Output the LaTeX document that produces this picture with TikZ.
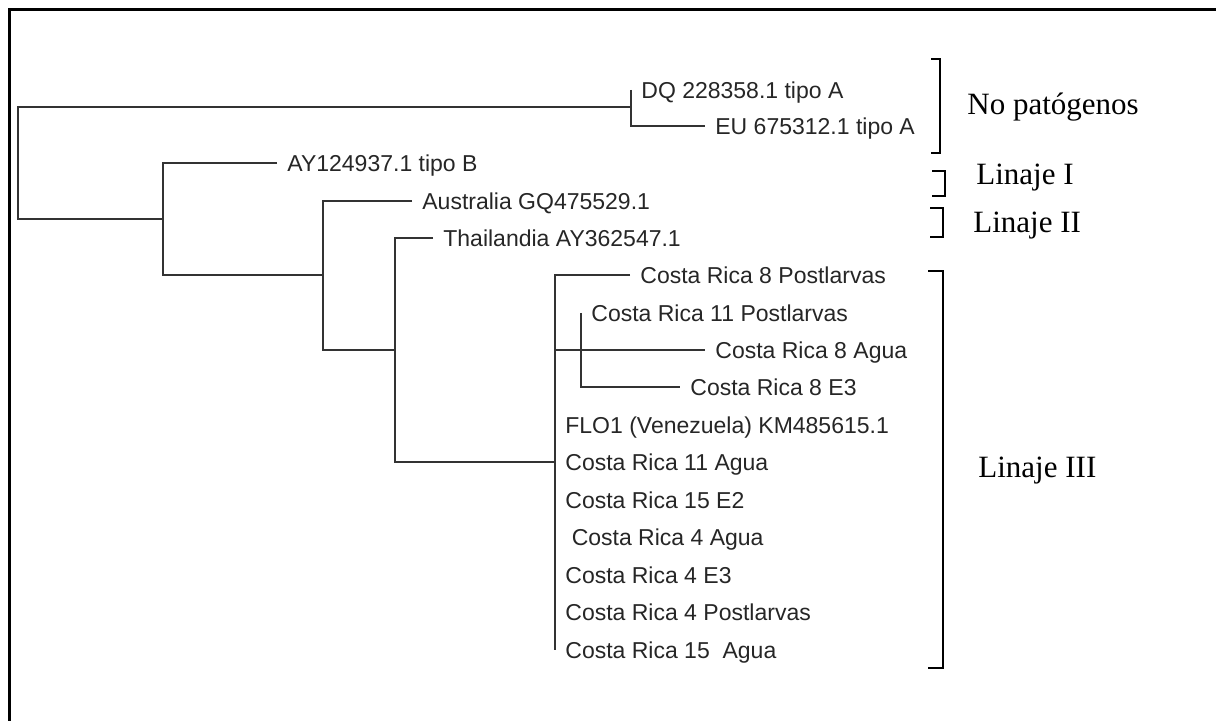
\documentclass[tikz,border=0pt]{standalone}
\usepackage{fontspec}
\setmainfont{Liberation Serif}
\newfontfamily\leaffont{Liberation Sans}

\begin{document}
\begin{tikzpicture}[x=0.5pt, y=-0.5pt,
    branch/.style={line width=1pt, draw=black!80},
    leaf/.style={anchor=west, inner xsep=5pt, inner ysep=0pt, text height=8.2pt,
        text depth=0pt, text=black!85, font=\leaffont\fontsize{11.5}{13}\selectfont},
    group/.style={anchor=base west, inner sep=0pt, font=\fontsize{15.5}{18}\selectfont},
    brace/.style={line width=1.2pt}]
    \useasboundingbox (0,0) rectangle (1216,721);
    % Frame
    \draw[line width=1.5pt] (9,721) |- (1216,10);
    % Leaves
    \node[leaf] (dq) at (631,90) {DQ 228358.1 tipo A};
    \node[leaf] (eu) at (705,126) {EU 675312.1 tipo A};
    \node[leaf] (ay) at (277,163) {AY124937.1 tipo B};
    \node[leaf] (au) at (412,201) {Australia GQ475529.1};
    \node[leaf] (th) at (433,238) {Thailandia AY362547.1};
    \node[leaf] (cr8p) at (630,275) {Costa Rica 8 Postlarvas};
    \node[leaf] (cr11p) at (581,313) {Costa Rica 11 Postlarvas};
    \node[leaf] (cr8a) at (705,350) {Costa Rica 8 Agua};
    \node[leaf] (cr8e) at (680,387) {Costa Rica 8 E3};
    \node[leaf] (flo) at (555,425) {FLO1 (Venezuela) KM485615.1};
    \node[leaf] (cr11a) at (555,462) {Costa Rica 11 Agua};
    \node[leaf] (cr15e) at (555,500) {Costa Rica 15 E2};
    \node[leaf] (cr4a) at (555,537) {\ Costa Rica 4 Agua};
    \node[leaf] (cr4e) at (555,575) {Costa Rica 4 E3};
    \node[leaf] (cr4p) at (555,612) {Costa Rica 4 Postlarvas};
    \node[leaf] (cr15a) at (555,650) {Costa Rica 15\ \ Agua};
    % Inner nodes
    \coordinate (root) at (18,163);
    \coordinate (na) at (631,107);
    \coordinate (nb) at (163,219);
    \coordinate (nc) at (323,275);
    \coordinate (nd) at (395,350);
    \coordinate (ne) at (555,462);
    % Branches
    \draw[branch] (na) -| (root) |- (nb);
    \draw[branch] (dq.west) |- (eu.west);
    \draw[branch] (ay.west) -| (nb) |- (nc);
    \draw[branch] (au.west) -| (nc) |- (nd);
    \draw[branch] (th.west) -| (nd) |- (ne);
    \draw[branch] (cr8p.west) -| (ne) |- (cr15a.west);
    \draw[branch] (ne |- cr8a.west) -- (cr8a.west);
    \draw[branch] (cr11p.west) |- (cr8e.west);
    % Groups
    \draw[brace] (931,59) -| (940,153) -- (931,153);
    \node[group] (np) at (967,115) {No patógenos};
    \draw[brace] (932,171) -| (945,196) -- (932,196);
    \node[group] (l1) at (976,185) {Linaje I};
    \draw[brace] (930,208) -| (943,237) -- (930,237);
    \node[group] (l2) at (973,233) {Linaje II};
    \draw[brace] (928,271) -| (943,668) -- (928,668);
    \node[group] (l3) at (978,478) {Linaje III};
\end{tikzpicture}
\end{document}
